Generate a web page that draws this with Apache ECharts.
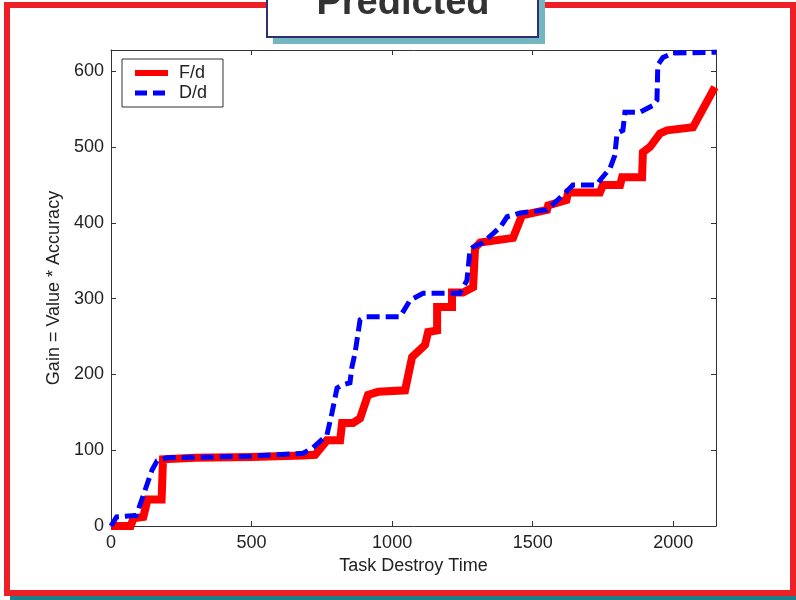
<!DOCTYPE html>
<html>
<head>
<meta charset="utf-8">
<script src="https://cdn.jsdelivr.net/npm/echarts@6/dist/echarts.min.js"></script>
<style>
html,body{margin:0;padding:0;background:#fff;}
#c{width:796px;height:600px;}
</style>
</head>
<body>
<div id="c"></div>
<script>
// ---- data ----
const seriesNames = ['F/d', 'D/d'];
const fdTime = [0, 70, 80, 115, 130, 180, 185, 300, 500, 683, 726, 768, 815, 822, 861, 886, 914, 950, 1046, 1071, 1117, 1128, 1160, 1160, 1213, 1213, 1252, 1288, 1295, 1313, 1430, 1462, 1551, 1555, 1620, 1626, 1739, 1750, 1811, 1818, 1889, 1892, 1917, 1953, 1978, 2070, 2148];
const fdGain = [0, 0, 10, 12, 35, 35, 88, 90, 91, 93, 94, 113, 113, 136, 136, 142, 173, 177, 179, 223, 239, 256, 258, 289, 289, 308, 308, 315, 367, 374, 380, 410, 417, 423, 430, 440, 440, 450, 450, 460, 460, 493, 500, 518, 522, 526, 579];
const ddTime = [0, 20, 90, 121, 146, 164, 199, 494, 683, 718, 768, 786, 804, 822, 850, 857, 868, 886, 904, 1028, 1064, 1110, 1241, 1266, 1277, 1288, 1323, 1384, 1409, 1455, 1551, 1580, 1615, 1643, 1729, 1739, 1775, 1792, 1800, 1821, 1828, 1882, 1928, 1942, 1945, 1963, 1999, 2152];
const ddGain = [0, 12, 14, 47, 74, 86, 90, 92, 96, 103, 120, 149, 182, 186, 189, 210, 228, 272, 276, 276, 298, 307, 307, 324, 364, 368, 374, 394, 408, 413, 417, 427, 439, 450, 450, 456, 472, 489, 518, 522, 546, 546, 555, 562, 608, 618, 624, 625];
const xMax = 2152, yMax = 628;
const titleText = 'Predicted';
const xName = 'Task Destroy Time';
const yName = 'Gain = Value * Accuracy';

const FONT = "'Liberation Sans', Arial, sans-serif";
const fd = fdTime.map((t, i) => [t, fdGain[i]]);
const dd = ddTime.map((t, i) => [t, ddGain[i]]);

const axisCommon = {
  type: 'value',
  axisLine: { show: true, onZero: false, lineStyle: { color: '#333', width: 1 } },
  axisTick: { show: true, inside: true, length: 5, lineStyle: { color: '#333', width: 1 } },
  splitLine: { show: false }
};
const plain = v => String(v);
const hiddenMarker = { color: 'rgba(0,0,0,0)', borderWidth: 0, borderColor: 'rgba(0,0,0,0)', opacity: 0 };

const chart = echarts.init(document.getElementById('c'), null, { renderer: 'canvas' });
chart.setOption({
  animation: false,
  backgroundColor: '#fff',
  grid: { left: 111, right: 80, top: 50, bottom: 74, containLabel: false },
  legend: {
    orient: 'vertical',
    left: 122, top: 59,
    padding: [5, 16, 5, 10],
    itemWidth: 33, itemHeight: 12, itemGap: 2,
    borderColor: '#333', borderWidth: 1, borderRadius: 0,
    backgroundColor: '#fff',
    textStyle: { fontFamily: FONT, fontSize: 18, color: '#222', padding: [0, 0, 0, 6] },
    data: [
      { name: seriesNames[0], itemStyle: hiddenMarker, lineStyle: { width: 6, color: '#ff0000', type: 'solid', opacity: 1 } },
      { name: seriesNames[1], itemStyle: hiddenMarker, lineStyle: { width: 5, color: '#0000ff', type: [12, 6], opacity: 1 } }
    ]
  },
  xAxis: [
    Object.assign({}, axisCommon, {
      min: 0, max: xMax, interval: 500, position: 'bottom',
      axisLabel: { fontFamily: FONT, fontSize: 18, color: '#222', margin: 8, showMaxLabel: false, formatter: plain },
      name: xName, nameLocation: 'middle', nameGap: 30,
      nameTextStyle: { fontFamily: FONT, fontSize: 18, color: '#222' }
    }),
    Object.assign({}, axisCommon, {
      min: 0, max: xMax, interval: 500, position: 'top',
      axisLabel: { show: false }
    })
  ],
  yAxis: [
    Object.assign({}, axisCommon, {
      min: 0, max: yMax, interval: 100, position: 'left',
      axisLabel: { fontFamily: FONT, fontSize: 18, color: '#222', margin: 7, showMaxLabel: false, formatter: plain },
      name: yName, nameLocation: 'middle', nameGap: 31, nameRotate: 90,
      nameTextStyle: { fontFamily: FONT, fontSize: 18, color: '#222' }
    }),
    Object.assign({}, axisCommon, {
      min: 0, max: yMax, interval: 100, position: 'right',
      axisLabel: { show: false }
    })
  ],
  series: [
    {
      name: seriesNames[0], type: 'line', data: fd, symbol: 'none', showSymbol: false,
      lineStyle: { color: '#ff0000', width: 8, join: 'miter' }, itemStyle: { color: '#ff0000' }, z: 2
    },
    {
      name: seriesNames[1], type: 'line', data: dd, symbol: 'none', showSymbol: false,
      lineStyle: { color: '#0000ff', width: 5, type: [13, 6], join: 'miter' }, itemStyle: { color: '#0000ff' }, z: 3
    }
  ],
  graphic: [
    { type: 'rect', z: 1, silent: true, shape: { x: 10, y: 596, width: 790, height: 6 }, style: { fill: '#17838f' } },
    { type: 'rect', z: 2, silent: true, shape: { x: 7, y: 5, width: 786, height: 588 }, style: { fill: 'none', stroke: '#ee2027', lineWidth: 6 } },
    { type: 'rect', z: 10, silent: true, shape: { x: 273, y: -10, width: 272, height: 54 }, style: { fill: '#74b6c0' } },
    { type: 'rect', z: 11, silent: true, shape: { x: 267, y: -10, width: 271, height: 47 }, style: { fill: '#ffffff', stroke: '#2e2f72', lineWidth: 2 } },
    { type: 'text', z: 12, silent: true, x: 403, y: 4,
      style: { text: titleText, fontFamily: FONT, fontWeight: 'bold', fontSize: 38, fill: '#333', align: 'center', verticalAlign: 'middle' } }
  ]
});
</script>
</body>
</html>
